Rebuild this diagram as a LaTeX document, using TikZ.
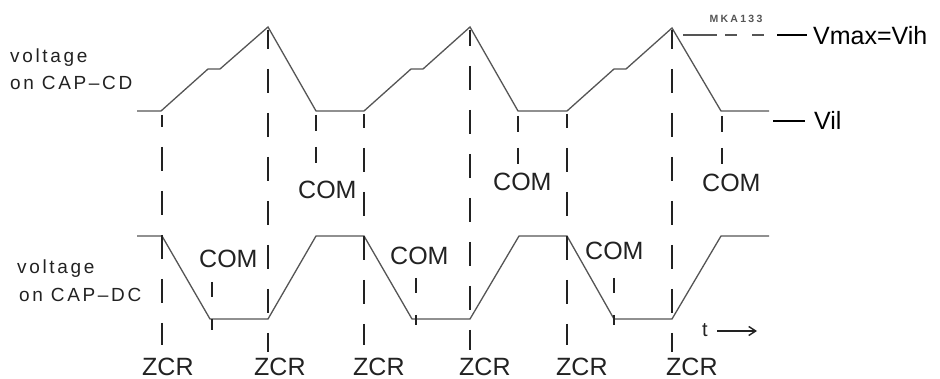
\documentclass[tikz,border=0pt]{standalone}
\usepackage{fontspec}
\setmainfont{Liberation Sans}
\newfontfamily\plotfont[LetterSpace=14]{Liberation Sans}
\newfontfamily\tagfont[LetterSpace=22]{Liberation Sans}
\usetikzlibrary{arrows.meta}
\definecolor{wave}{HTML}{555555}
\definecolor{ink}{HTML}{222222}
\tikzset{
  wavel/.style={draw=wave, line width=1.3pt, line join=miter},
  zcrline/.style={draw=ink, line width=1.6pt, dash pattern=on 24pt off 20pt},
  comtop/.style={draw=ink, line width=1.5pt, dash pattern=on 16pt off 16pt},
  combot/.style={draw=ink, line width=1.5pt, dash pattern=on 15pt off 22pt},
  biglbl/.style={inner sep=0pt, anchor=base west, text=ink, font=\fontsize{25}{25}\selectfont},
  sidelbl/.style={inner sep=0pt, anchor=base west, text=ink, font=\plotfont\fontsize{19}{19}\selectfont},
}
\begin{document}
\begin{tikzpicture}[x=1pt,y=-1pt]
\useasboundingbox[fill=white] (0,0) rectangle (940,379);

% waveform on CAP-CD
\draw[wavel] (137,111) -- (161,111) -- (208,69) -- (220,69) -- (268,27) -- (316,111)
  -- (364,111) -- (411,69) -- (423,69) -- (470,27) -- (518,111)
  -- (567,111) -- (614,69) -- (626,69) -- (672,28) -- (721,111) -- (769,111);

% waveform on CAP-DC
\draw[wavel] (137,236) -- (162,236) -- (210,319) -- (268,319) -- (316,236)
  -- (364,236) -- (412,319) -- (470,319) -- (519,236)
  -- (567,236) -- (614,319) -- (672,319) -- (721,236) -- (769,236);

% ZCR dashed lines
\coordinate (z1t) at (162,115); \coordinate (z1b) at (162,345);
\coordinate (z2t) at (268,30);  \coordinate (z2b) at (268,352);
\coordinate (z3t) at (364,114); \coordinate (z3b) at (364,345);
\coordinate (z4t) at (470,30);  \coordinate (z4b) at (470,350);
\coordinate (z5t) at (567,114); \coordinate (z5b) at (567,345);
\coordinate (z6t) at (672,30);  \coordinate (z6b) at (672,352);
\draw[zcrline, dash phase=12pt] (z1t) -- (z1b);
\draw[zcrline, dash phase=5pt]  (z2t) -- (z2b);
\draw[zcrline, dash phase=10pt] (z3t) -- (z3b);
\draw[zcrline, dash phase=8pt]  (z4t) -- (z4b);
\draw[zcrline, dash phase=10pt] (z5t) -- (z5b);
\draw[zcrline, dash phase=5pt]  (z6t) -- (z6b);

% COM dashed lines (top)
\coordinate (c1t) at (316,115); \coordinate (c1b) at (316,164);
\coordinate (c2t) at (518,116); \coordinate (c2b) at (518,164);
\coordinate (c3t) at (722,116); \coordinate (c3b) at (722,164);
\draw[comtop] (c1t) -- (c1b);
\draw[comtop] (c2t) -- (c2b);
\draw[comtop] (c3t) -- (c3b);

% COM dashed lines (bottom)
\coordinate (d1t) at (212,282); \coordinate (d1b) at (212,330);
\coordinate (d2t) at (416,278); \coordinate (d2b) at (416,325);
\coordinate (d3t) at (614,278); \coordinate (d3b) at (614,325);
\draw[combot] (d1t) -- (d1b);
\draw[combot] (d2t) -- (d2b);
\draw[combot] (d3t) -- (d3b);

% level markers
\coordinate (vh1) at (683,35); \coordinate (vh2) at (764,35);
\draw[draw=wave, line width=1.3pt, dash pattern=on 34pt off 8pt on 12pt off 15pt on 12pt] (vh1) -- (vh2);
\coordinate (vh3) at (777,35); \coordinate (vh4) at (807,35);
\draw[draw=black, line width=2pt] (vh3) -- (vh4);
\coordinate (vl1) at (773,121); \coordinate (vl2) at (805,121);
\draw[draw=black, line width=2pt] (vl1) -- (vl2);

\node[biglbl, text=black] (vmax) at (813,45) {Vmax=Vih};
\node[biglbl, text=black] (vil) at (814,130) {Vil};
\node[inner sep=0pt, text=wave, font=\tagfont\bfseries\fontsize{10.5}{10.5}\selectfont] (mka) at (736,18.5) {MKA133};

% side labels
\node[sidelbl] (v1a) at (10,63) {voltage};
\node[sidelbl] (v1b) at (10,90) {on CAP–CD};
\node[sidelbl] (v2a) at (17,274) {voltage};
\node[sidelbl] (v2b) at (19,302) {on CAP–DC};

% COM labels
\node[biglbl] (ct1) at (298,199) {COM};
\node[biglbl] (ct2) at (493,191) {COM};
\node[biglbl] (ct3) at (702,192) {COM};
\node[biglbl] (cb1) at (199,268) {COM};
\node[biglbl] (cb2) at (390,265) {COM};
\node[biglbl] (cb3) at (585,260) {COM};

% ZCR labels
\node[biglbl] (zl1) at (142,375) {ZCR};
\node[biglbl] (zl2) at (254,375) {ZCR};
\node[biglbl] (zl3) at (353,375) {ZCR};
\node[biglbl] (zl4) at (459,375) {ZCR};
\node[biglbl] (zl5) at (556,375) {ZCR};
\node[biglbl] (zl6) at (666,375) {ZCR};

% time arrow
\node[inner sep=0pt, anchor=base west, text=ink, font=\fontsize{20}{20}\selectfont] (tl) at (702,337) {t};
\coordinate (ta1) at (717,331); \coordinate (ta2) at (757,331);
\draw[draw=ink, line width=1.4pt, -{Straight Barb[length=7pt,width=9pt]}] (ta1) -- (ta2);
\end{tikzpicture}
\end{document}
